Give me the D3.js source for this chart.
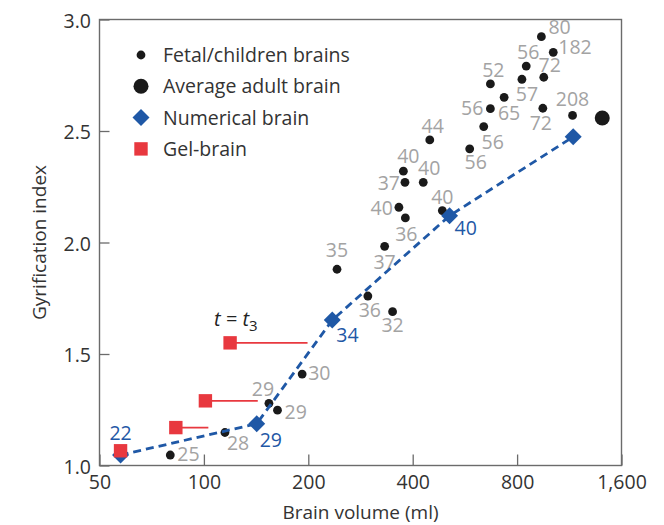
<!DOCTYPE html>
<html>
<head>
<meta charset="utf-8">
<script src="https://cdn.jsdelivr.net/npm/d3@7"></script>
<style>
  body { margin: 0; background: #fff; }
  text { font-family: "Open Sans", sans-serif; }
</style>
</head>
<body>
<svg width="664" height="525"></svg>
<script>
// fetal / children brains (volume ml, gyrification index, age label)
const fetalVolume = [940, 1017, 850, 955, 826, 670, 734, 670, 949, 1156, 641, 448, 584, 376, 380, 429, 365, 381, 487, 332, 242, 297, 350, 192, 154, 163, 115, 80];
const fetalGI = [2.923, 2.853, 2.791, 2.741, 2.732, 2.711, 2.651, 2.600, 2.602, 2.570, 2.520, 2.460, 2.420, 2.320, 2.270, 2.270, 2.158, 2.110, 2.143, 1.983, 1.880, 1.760, 1.690, 1.410, 1.279, 1.248, 1.148, 1.047];
const fetalAge = ["80", "182", "56", "72", "57", "52", "65", "56", "72", "208", "56", "44", "56", "40", "37", "40", "40", "36", "40", "37", "35", "36", "32", "30", "29", "29", "28", "25"];

const adultVolume = [1408];
const adultGI = [2.558];

const numVolume = [57.5, 142, 234.5, 511, 1161];
const numGI = [1.047, 1.187, 1.652, 2.12, 2.474];
const numAge = ["22", "29", "34", "40", ""];

const gelVolume = [57.5, 83, 101, 119];
const gelGI = [1.066, 1.17, 1.29, 1.55];
const gelLineEnd = [null, 103, 143, 199];

const xTicks = [50, 100, 200, 400, 800, 1600];
const yTicks = [1.0, 1.5, 2.0, 2.5, 3.0];

// label placement: [dx, dy, anchor]
const fetalLabelPos = [
  [7, -3, "start"], [5, 2, "start"], [2, -7, "middle"], [6, -5, "middle"],
  [5, 22, "middle"], [3, -7, "middle"], [5, 23, "middle"], [-7, 6, "end"],
  [-2, 22, "middle"], [0, -9, "middle"], [9, 22, "middle"], [3, -7, "middle"],
  [6, 20, "middle"], [5, -8, "middle"], [-5, 8, "end"], [6, -7, "middle"],
  [-6, 8, "end"], [1, 23, "middle"], [0, -7, "middle"], [0, 23, "middle"],
  [0, -12, "middle"], [2, 21, "middle"], [0, 20, "middle"], [6, 6, "start"],
  [-6, -7, "middle"], [7, 9, "start"], [2, 18, "start"], [7, 6, "start"]
];
const numLabelPos = [[0, -15, "middle"], [3, 23, "start"], [4, 22, "start"], [5, 19, "start"], [0, 0, "start"]];

const svg = d3.select("svg");
const margin = { top: 19.5, right: 42.5, bottom: 59.5, left: 99.5 };
const width = 664 - margin.left - margin.right;
const height = 525 - margin.top - margin.bottom;
const g = svg.append("g").attr("transform", `translate(${margin.left},${margin.top})`);

const x = d3.scaleLog().domain([50, 1600]).range([0, width]);
const y = d3.scaleLinear().domain([1, 3]).range([height, 0]);

const blue = "#1f58a6", red = "#e8383f", grey = "#a3a3a3";

// axes
const xAxis = g.append("g")
  .attr("transform", `translate(0,${height})`)
  .call(d3.axisBottom(x).tickValues(xTicks).tickFormat(d3.format(",")).tickSize(-11).tickPadding(10));
const yAxis = g.append("g")
  .call(d3.axisLeft(y).tickValues(yTicks).tickFormat(d3.format(".1f")).tickSize(-10).tickPadding(8.5));

[xAxis, yAxis].forEach(a => {
  a.select(".domain").remove();
  a.selectAll("line").attr("stroke", "#6b6b6b").attr("stroke-width", 1.3);
  a.selectAll("text")
    .attr("fill", "#333")
    .style("font-size", "19.5px")
    .style("font-family", "Open Sans");
});
yAxis.selectAll("text").attr("dy", "0.4em");

g.append("rect")
  .attr("width", width)
  .attr("height", height)
  .attr("fill", "none")
  .attr("stroke", "#6b6b6b")
  .attr("stroke-width", 1.4);

svg.append("text")
  .attr("x", margin.left + width / 2)
  .attr("y", 519)
  .attr("text-anchor", "middle")
  .attr("fill", "#333")
  .style("font-size", "19px")
  .text("Brain volume (ml)");

svg.append("text")
  .attr("transform", `translate(46,${margin.top + height / 2}) rotate(-90)`)
  .attr("text-anchor", "middle")
  .attr("fill", "#333")
  .style("font-size", "19px")
  .text("Gyrification index");

// fetal dots
const fetal = fetalVolume.map((v, i) => ({ v, gi: fetalGI[i], age: fetalAge[i], pos: fetalLabelPos[i] }));
g.selectAll("circle.fetal")
  .data(fetal)
  .join("circle")
    .attr("class", "fetal")
    .attr("cx", d => x(d.v))
    .attr("cy", d => y(d.gi))
    .attr("r", 4.4)
    .attr("fill", "#1a1a1a");

g.selectAll("text.fetal")
  .data(fetal)
  .join("text")
    .attr("class", "fetal")
    .attr("x", d => x(d.v) + d.pos[0])
    .attr("y", d => y(d.gi) + d.pos[1])
    .attr("text-anchor", d => d.pos[2])
    .attr("fill", grey)
    .style("font-size", "19.5px")
    .text(d => d.age);

// adult
g.selectAll("circle.adult")
  .data(adultVolume.map((v, i) => ({ v, gi: adultGI[i] })))
  .join("circle")
    .attr("class", "adult")
    .attr("cx", d => x(d.v))
    .attr("cy", d => y(d.gi))
    .attr("r", 7.5)
    .attr("fill", "#1a1a1a");

// numerical brain
const num = numVolume.map((v, i) => ({ v, gi: numGI[i], age: numAge[i], pos: numLabelPos[i] }));
g.append("path")
  .datum(num)
  .attr("fill", "none")
  .attr("stroke", blue)
  .attr("stroke-width", 2.8)
  .attr("stroke-dasharray", "8,5")
  .attr("d", d3.line().x(d => x(d.v)).y(d => y(d.gi)));

g.selectAll("path.num")
  .data(num)
  .join("path")
    .attr("class", "num")
    .attr("transform", d => `translate(${x(d.v)},${y(d.gi)}) rotate(45)`)
    .attr("d", "M-6,-6H6V6H-6Z")
    .attr("fill", blue);

g.selectAll("text.num")
  .data(num)
  .join("text")
    .attr("class", "num")
    .attr("x", d => x(d.v) + d.pos[0])
    .attr("y", d => y(d.gi) + d.pos[1])
    .attr("text-anchor", d => d.pos[2])
    .attr("fill", blue)
    .style("font-size", "19.5px")
    .text(d => d.age);

// gel brain
const gel = gelVolume.map((v, i) => ({ v, gi: gelGI[i], end: gelLineEnd[i] }));
g.selectAll("line.gel")
  .data(gel.filter(d => d.end))
  .join("line")
    .attr("class", "gel")
    .attr("x1", d => x(d.v))
    .attr("x2", d => x(d.end))
    .attr("y1", d => y(d.gi))
    .attr("y2", d => y(d.gi))
    .attr("stroke", red)
    .attr("stroke-width", 1.8);

g.selectAll("rect.gel")
  .data(gel)
  .join("rect")
    .attr("class", "gel")
    .attr("x", d => x(d.v) - 6.7)
    .attr("y", d => y(d.gi) - 6.7)
    .attr("width", 13.4)
    .attr("height", 13.4)
    .attr("fill", red);

// t = t3 annotation
const last = gel[gel.length - 1];
const tLabel = g.append("text")
  .attr("x", x(last.v) - 16)
  .attr("y", y(last.gi) - 17)
  .attr("fill", "#222")
  .style("font-size", "20px");
tLabel.append("tspan").style("font-style", "italic").text("t");
tLabel.append("tspan").text(" = ");
tLabel.append("tspan").style("font-style", "italic").text("t");
tLabel.append("tspan").attr("dy", 5).style("font-size", "15px").text("3");

// legend
const legend = svg.append("g").attr("transform", "translate(141,55)");
const legendItems = ["Fetal/children brains", "Average adult brain", "Numerical brain", "Gel-brain"];
legendItems.forEach((name, i) => {
  const row = legend.append("g").attr("transform", `translate(0,${i * 31.3})`);
  if (i === 0) row.append("circle").attr("r", 4.4).attr("fill", "#1a1a1a");
  if (i === 1) row.append("circle").attr("r", 7.5).attr("fill", "#1a1a1a");
  if (i === 2) row.append("path").attr("d", "M-6,-6H6V6H-6Z").attr("transform", "rotate(45)").attr("fill", blue);
  if (i === 3) row.append("rect").attr("x", -6.7).attr("y", -6.7).attr("width", 13.4).attr("height", 13.4).attr("fill", red);
  row.append("text")
    .attr("x", 22)
    .attr("y", 7)
    .attr("fill", "#333")
    .style("font-size", "19.5px")
    .text(name);
});
</script>
</body>
</html>
